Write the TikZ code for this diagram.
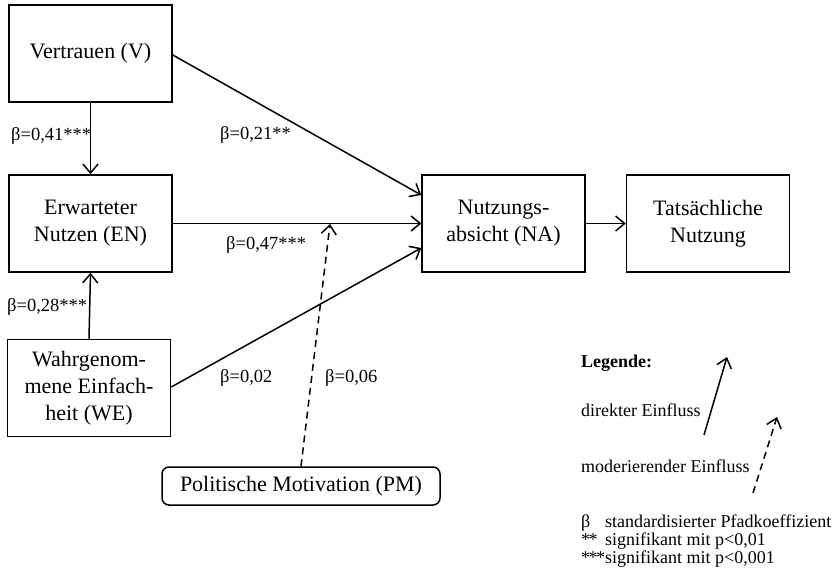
\documentclass[tikz,border=0pt]{standalone}
\usepackage{fontspec}
\setmainfont{Liberation Serif}
\usetikzlibrary{arrows.meta}
\begin{document}
\begin{tikzpicture}[x=1pt,y=-1pt,
  box/.style={draw, line width=1.5pt, minimum width=163pt, minimum height=97pt,
    inner sep=0pt, align=center, font=\fontsize{22}{27}\selectfont},
  modbox/.style={draw, line width=1.5pt, rounded corners=7pt, minimum width=278pt,
    minimum height=38pt, inner sep=0pt, font=\fontsize{22}{27}\selectfont},
  path/.style={line width=1.5pt, -{Straight Barb[length=9pt,width=15pt,line width=1.5pt]}},
  modpath/.style={path, dash pattern=on 7pt off 5pt},
  coef/.style={font=\fontsize{18.5}{18.5}\selectfont, inner sep=0pt, anchor=base west},
  legend/.style={font=\fontsize{18}{18}\selectfont, inner sep=0pt, anchor=base west}]
\useasboundingbox (0,0) rectangle (839,580);

% constructs
\node[box] (V)  at (90.5,53.5)  {Vertrauen (V)};
\node[box] (EN) at (90.5,223.5) {Erwarteter\\Nutzen (EN)};
\node[box] (WE) at (89,388)     {Wahrgenom-\\mene Einfach-\\heit (WE)};
\node[box] (NA) at (503.5,223.5) {Nutzungs-\\absicht (NA)};
\node[box] (TN) at (708,223.5) {Tatsächliche\\Nutzung};
\node[modbox] (PM) at (301,486) {Politische Motivation (PM)};

% direct paths
\draw[path] (V.south) -- (EN.north);
\draw[path] (WE.north) -- (EN.south);
\draw[path] (V.east |- 0,55) -- (NA.west |- 0,195);
\draw[path] (EN.east) -- (NA.west);
\draw[path] (WE.east |- 0,387) -- (NA.west |- 0,248);
\draw[path] (NA.east) -- (TN.west);

% moderating path
\coordinate (mod) at (330,224);
\draw[modpath] (PM.north) -- (mod);

% path coefficients
\node[coef] (c1) at (11,141)  {β=0,41***};
\node[coef] (c2) at (220,140) {β=0,21**};
\node[coef] (c3) at (226,250) {β=0,47***};
\node[coef] (c4) at (7,312)   {β=0,28***};
\node[coef] (c5) at (220,382) {β=0,02};
\node[coef] (c6) at (325,382) {β=0,06};

% legend
\node[legend, font=\fontsize{18}{18}\selectfont\bfseries] (lt) at (581,368) {Legende:};
\node[legend] (ld) at (581,417) {direkter Einfluss};
\node[legend] (lm) at (581,472) {moderierender Einfluss};
\coordinate (d0) at (704,435);
\coordinate (d1) at (727,357);
\draw[path] (d0) -- (d1);
\coordinate (m0) at (753,493);
\coordinate (m1) at (777,417);
\draw[modpath] (m0) -- (m1);
\node[legend] (s1) at (581,527) {β};
\node[legend] (t1) at (605,527) {standardisierter Pfadkoeffizient};
\node[legend] (s2) at (581,545) {*\kern-1.5pt*};
\node[legend] (t2) at (605,545) {signifikant mit p<0,01};
\node[legend] (s3) at (581,563) {*\kern-1.5pt*\kern-1.5pt*};
\node[legend] (t3) at (605,563) {signifikant mit p<0,001};
\end{tikzpicture}
\end{document}
